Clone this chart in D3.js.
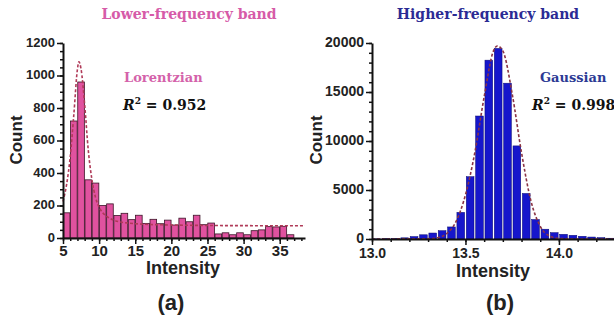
<!DOCTYPE html>
<html>
<head>
<meta charset="utf-8">
<script src="https://cdn.jsdelivr.net/npm/d3@7"></script>
<style>
  body { margin: 0; background: #fff; }
  svg { display: block; }
  .tick text { font-family: "Liberation Sans", Arial, sans-serif; font-weight: bold; fill: #222; }
  .axis path, .axis line { stroke: #111; }
</style>
</head>
<body>
<svg id="chart" width="614" height="322"></svg>
<script>
// (a) lower-frequency band: histogram with 1-unit bins starting at 5
const lowBinStart = 5;
const lowBinWidth = 1;
const lowCounts = [155, 720, 960, 358, 338, 200, 210, 138, 152, 113, 140, 90, 115, 88, 110, 80,
  122, 100, 140, 82, 92, 25, 32, 20, 32, 20, 45, 50, 70, 68, 72, 20];
// Lorentzian fit curve
const lowFitX = [5, 5.5, 6, 6.5, 7, 7.2, 7.5, 8, 8.5, 9, 9.5, 10, 10.5, 11, 12, 13, 14, 16, 20, 25, 30, 38.5];
const lowFitY = [225, 330, 500, 760, 1040, 1085, 1040, 820, 540, 360, 250, 190, 155, 135, 110, 98, 92, 85, 80, 77, 76, 75];
const lowYTicks = [0, 200, 400, 600, 800, 1000, 1200];
const lowXTicks = [5, 10, 15, 20, 25, 30, 35];

// (b) higher-frequency band: histogram with 0.05 bins starting at 13.0
const highBinStart = 13.0;
const highBinWidth = 0.05;
const highCounts = [20, 30, 50, 120, 250, 430, 610, 850, 1230, 2720, 6360, 12550, 18250, 19450,
  15900, 9500, 4650, 1990, 1000, 650, 480, 380, 280, 200, 140, 80];
// Gaussian fit curve
const highFitX = [13.0, 13.3, 13.35, 13.4, 13.45, 13.5, 13.55, 13.6, 13.65, 13.67, 13.7, 13.75, 13.8, 13.85, 13.9, 13.95, 14.0, 14.1, 14.3];
const highFitY = [0, 30, 130, 560, 1800, 4500, 8800, 14500, 19200, 19700, 19200, 14800, 8800, 3900, 1300, 300, 60, 0, 0];
const highYTicks = [0, 5000, 10000, 15000, 20000];
const highXTicks = [13.0, 13.5, 14.0];

const svg = d3.select('#chart');
const serif = '"DejaVu Serif", serif';
const sans = '"Liberation Sans", Arial, sans-serif';

function drawPanel(p) {
  const x = d3.scaleLinear().domain(p.xDomain).range(p.xRange);
  const y = d3.scaleLinear().domain(p.yDomain).range(p.yRange);
  const g = svg.append('g');

  // bars
  g.selectAll('rect.bar')
    .data(p.counts)
    .enter()
    .append('rect')
    .attr('class', 'bar')
    .attr('x', (d, i) => x(p.binStart + i * p.binWidth) + p.gap / 2)
    .attr('width', (d, i) => x(p.binStart + (i + 1) * p.binWidth) - x(p.binStart + i * p.binWidth) - p.gap)
    .attr('y', d => y(d))
    .attr('height', d => y(0) - y(d))
    .attr('fill', p.fill)
    .attr('stroke', p.stroke)
    .attr('stroke-width', p.strokeWidth);

  // fitted curve
  const line = d3.line()
    .x(d => x(d[0]))
    .y(d => y(d[1]))
    .curve(d3.curveMonotoneX);
  g.append('path')
    .datum(d3.zip(p.fitX, p.fitY))
    .attr('d', line)
    .attr('fill', 'none')
    .attr('stroke', p.fitColor)
    .attr('stroke-width', 1.6)
    .attr('stroke-dasharray', '3,2');

  // minor ticks
  g.append('g')
    .attr('class', 'axis')
    .attr('transform', `translate(${p.xRange[0]},0)`)
    .call(d3.axisLeft(y).tickValues(p.yMinor).tickSize(3).tickFormat(''))
    .call(a => a.select('.domain').remove())
    .selectAll('line').attr('stroke-width', 1.5);
  g.append('g')
    .attr('class', 'axis')
    .attr('transform', `translate(0,${p.yRange[0]})`)
    .call(d3.axisBottom(x).tickValues(p.xMinor).tickSize(3).tickFormat(''))
    .call(a => a.select('.domain').remove())
    .selectAll('line').attr('stroke-width', 1.5);

  // major axes
  const yAxis = g.append('g')
    .attr('class', 'axis')
    .attr('transform', `translate(${p.xRange[0]},0)`)
    .call(d3.axisLeft(y).tickValues(p.yTicks).tickSize(6).tickPadding(2).tickSizeOuter(0)
      .tickFormat(d3.format('d')));
  yAxis.select('.domain').attr('stroke-width', 2);
  yAxis.selectAll('.tick line').attr('stroke-width', 1.5);
  yAxis.selectAll('.tick text').style('font-size', p.yFont + 'px').attr('dy', '0.25em');

  const xAxis = g.append('g')
    .attr('class', 'axis')
    .attr('transform', `translate(0,${p.yRange[0]})`)
    .call(d3.axisBottom(x).tickValues(p.xTicks).tickSize(6).tickPadding(p.xPad).tickSizeOuter(0)
      .tickFormat(p.xFormat));
  xAxis.select('.domain').attr('stroke-width', 2);
  xAxis.selectAll('.tick line').attr('stroke-width', 1.5);
  xAxis.selectAll('.tick text').style('font-size', p.xFont + 'px');

  // axis titles
  svg.append('text')
    .attr('transform', `translate(${p.countX},140) rotate(-90)`)
    .attr('text-anchor', 'middle')
    .style('font-family', sans).style('font-weight', 'bold').style('font-size', '17px')
    .attr('fill', '#222')
    .text('Count');
  svg.append('text')
    .attr('x', p.intensityX).attr('y', p.intensityY)
    .attr('text-anchor', 'middle')
    .style('font-family', sans).style('font-weight', 'bold').style('font-size', '18px')
    .attr('fill', '#222')
    .text('Intensity');
  svg.append('text')
    .attr('x', p.letterX).attr('y', 310)
    .attr('text-anchor', 'middle')
    .style('font-family', sans).style('font-weight', 'bold').style('font-size', '22px')
    .attr('fill', '#222')
    .text(p.letter);

  // title and fit annotation
  svg.append('text')
    .attr('x', p.titleX).attr('y', 19)
    .attr('text-anchor', 'middle')
    .style('font-family', serif).style('font-weight', 'bold').style('font-size', '14px')
    .attr('fill', p.titleColor)
    .text(p.title);
  svg.append('text')
    .attr('x', p.fitLabelX).attr('y', 82)
    .style('font-family', serif).style('font-weight', 'bold').style('font-size', '13px')
    .attr('fill', p.fitLabelColor)
    .text(p.fitLabel);
  const r2 = svg.append('text')
    .attr('x', p.r2X).attr('y', 110)
    .style('font-family', serif).style('font-weight', 'bold').style('font-size', '14px')
    .attr('fill', '#111');
  r2.append('tspan').style('font-style', 'italic').text('R');
  r2.append('tspan').attr('dy', -6).style('font-size', '9px').text('2');
  r2.append('tspan').attr('dy', 6).attr('xml:space', 'preserve').text(' = ' + p.r2);
}

drawPanel({
  counts: lowCounts, binStart: lowBinStart, binWidth: lowBinWidth,
  fitX: lowFitX, fitY: lowFitY,
  xDomain: [5, 38.5], xRange: [63, 305],
  yDomain: [0, 1200], yRange: [238, 43],
  yTicks: lowYTicks, yMinor: d3.range(0, 1201, 50),
  xTicks: lowXTicks, xMinor: d3.range(5, 39, 1),
  xFormat: d3.format('d'), yFont: 13, xFont: 15, xPad: 1,
  fill: '#e0529f', stroke: '#3c1428', strokeWidth: 0.8, gap: 0.6,
  fitColor: '#b03a58',
  countX: 22, intensityX: 183, intensityY: 274, letterX: 171, letter: '(a)',
  title: 'Lower-frequency band', titleX: 189, titleColor: '#d65ba8',
  fitLabel: 'Lorentzian', fitLabelX: 124, fitLabelColor: '#d462aa',
  r2: '0.952', r2X: 123
});

drawPanel({
  counts: highCounts, binStart: highBinStart, binWidth: highBinWidth,
  fitX: highFitX, fitY: highFitY,
  xDomain: [13.0, 14.3], xRange: [372, 615],
  yDomain: [0, 20000], yRange: [239, 43],
  yTicks: highYTicks, yMinor: d3.range(0, 20001, 1000),
  xTicks: highXTicks, xMinor: d3.range(130, 144, 1).map(d => d / 10),
  xFormat: d3.format('.1f'), yFont: 14, xFont: 14, xPad: 3,
  fill: '#1616cc', stroke: '#0c0c70', strokeWidth: 0.5, gap: 1.6,
  fitColor: '#8a3444',
  countX: 322, intensityX: 493, intensityY: 277, letterX: 500, letter: '(b)',
  title: 'Higher-frequency band', titleX: 488, titleColor: '#2b2b94',
  fitLabel: 'Gaussian', fitLabelX: 540, fitLabelColor: '#2c3a94',
  r2: '0.998', r2X: 532
});
</script>
</body>
</html>
